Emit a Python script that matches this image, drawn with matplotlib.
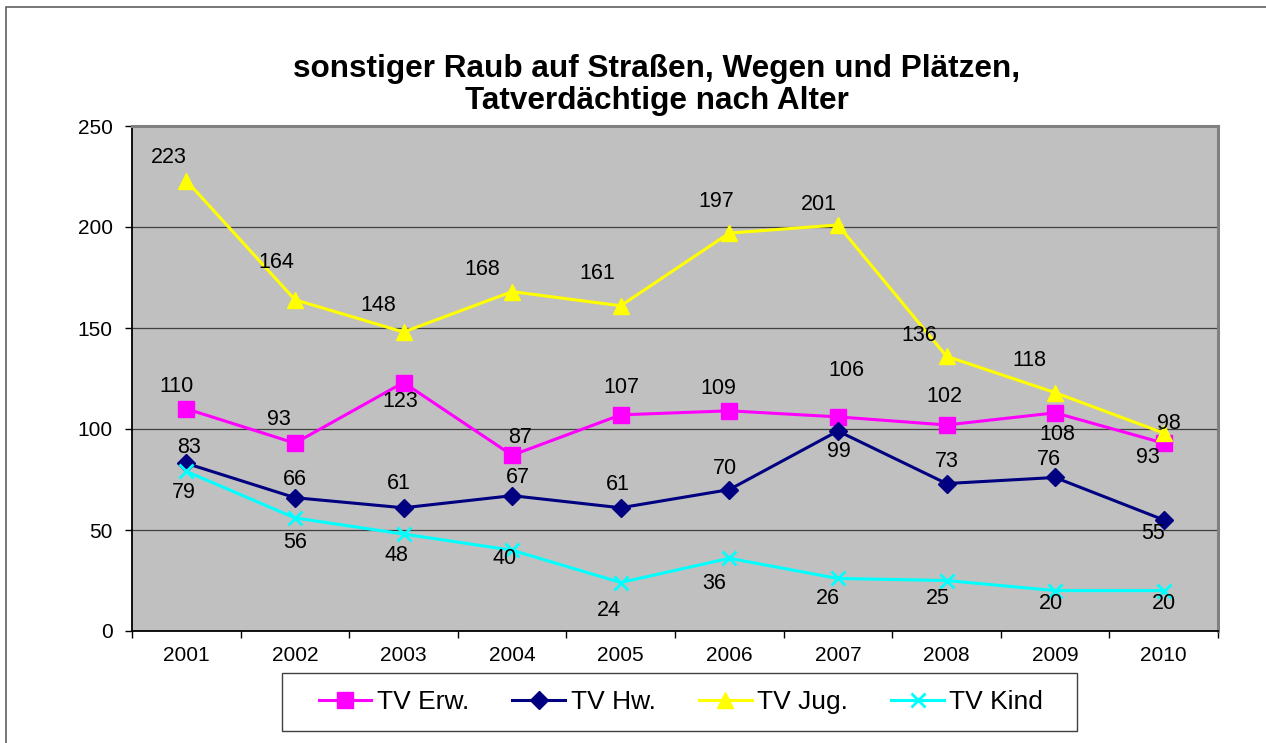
import matplotlib
matplotlib.use("Agg")
import matplotlib.pyplot as plt
from matplotlib.patches import Rectangle

plt.rcParams['font.family'] = ['Liberation Sans', 'DejaVu Sans']

years = ["2001", "2002", "2003", "2004", "2005", "2006", "2007", "2008", "2009", "2010"]
tv_erw = [110, 93, 123, 87, 107, 109, 106, 102, 108, 93]
tv_hw = [83, 66, 61, 67, 61, 70, 99, 73, 76, 55]
tv_jug = [223, 164, 148, 168, 161, 197, 201, 136, 118, 98]
tv_kind = [79, 56, 48, 40, 24, 36, 26, 25, 20, 20]

# label offsets in pixels (dx, dy; dy positive = up), as placed in the original
off_erw = [(-10, 22), (-16, 24), (-3, -19), (8, 18), (1, 27), (-11, 22), (8, 46), (-2, 28), (2, -22), (-16, -14)]
off_hw = [(3, 16), (0, 18), (-5, 24), (6, 18), (-3, 23), (-4, 21), (1, -20), (0, 22), (-6, 18), (-11, -14)]
off_jug = [(-17, 23), (-19, 37), (-25, 27), (-30, 22), (-23, 32), (-13, 32), (-19, 20), (-27, 21), (-26, 32), (5, 10)]
off_kind = [(-2, -21), (0, -25), (-7, -21), (-8, -8), (-12, -28), (-15, -25), (-10, -20), (-9, -18), (-4, -13), (0, -13)]

series = [
    ("TV Erw.", tv_erw, off_erw, "#FF00FF", "s", 11),
    ("TV Hw.", tv_hw, off_hw, "#000080", "D", 9),
    ("TV Jug.", tv_jug, off_jug, "#FFFF00", "^", 11),
    ("TV Kind", tv_kind, off_kind, "#00FFFF", "x", 10),
]

fig = plt.figure(figsize=(12.66, 7.43), dpi=100)
ax = fig.add_axes([132 / 1266, 1 - 631 / 743, (1218 - 132) / 1266, (631 - 126) / 743])
ax.set_facecolor("#C0C0C0")

x = list(range(1, len(years) + 1))
for name, vals, offs, col, mk, ms in series:
    ax.plot(x, vals, color=col, lw=2.2, marker=mk, markersize=ms,
            markeredgewidth=2 if mk == "x" else 1, markeredgecolor=col, label=name, zorder=3)
    for xi, v, (dx, dy) in zip(x, vals, offs):
        ax.annotate(str(v), (xi, v), xytext=(dx, dy), textcoords="offset pixels",
                    ha="center", va="center", fontsize=15.5, color="black", zorder=4)

ax.set_xlim(0.5, len(years) + 0.5)
ax.set_ylim(0, 250)
ax.set_yticks([0, 50, 100, 150, 200, 250])
ax.set_xticks([i + 0.5 for i in range(0, len(years) + 1)], minor=False)
ax.set_xticklabels([])
ax.set_xticks(x, minor=True)
ax.set_xticklabels(years, minor=True)
ax.tick_params(axis="x", which="minor", length=0, pad=11, labelsize=15)
ax.tick_params(axis="x", which="major", length=5, width=1, direction="out")
ax.tick_params(axis="y", length=5, width=1, direction="out", pad=9, labelsize=15)
ax.yaxis.grid(True, color="#404040", lw=0.9)
ax.set_axisbelow(True)

for s in ["left", "bottom"]:
    ax.spines[s].set_color("black")
    ax.spines[s].set_linewidth(1.3)
for s in ["top", "right"]:
    ax.spines[s].set_color("#808080")
    ax.spines[s].set_linewidth(2.2)

fig.text(657 / 1266, 1 - 85 / 743,
         "sonstiger Raub auf Straßen, Wegen und Plätzen,\nTatverdächtige nach Alter",
         ha="center", va="center", fontsize=22.7, fontweight="bold", linespacing=1.13)

# legend without its own frame; box drawn separately
leg = fig.legend(loc="center", bbox_to_anchor=(681 / 1266, 1 - 702 / 743), ncol=4,
                 fontsize=19, handlelength=2.0, handletextpad=0.2, columnspacing=1.65,
                 frameon=False)
fig.patches.append(Rectangle((282 / 1266, 1 - 731 / 743), (1077 - 282) / 1266, 58 / 743,
                             transform=fig.transFigure, fill=False, edgecolor="#404040", lw=1.0))

fig.patches.append(Rectangle((6 / 1266, -0.05), 1.1, 1 - 7 / 743 + 0.05, transform=fig.transFigure,
                             fill=False, edgecolor="#606060", lw=1.2))

fig.savefig("out.png", dpi=100)
